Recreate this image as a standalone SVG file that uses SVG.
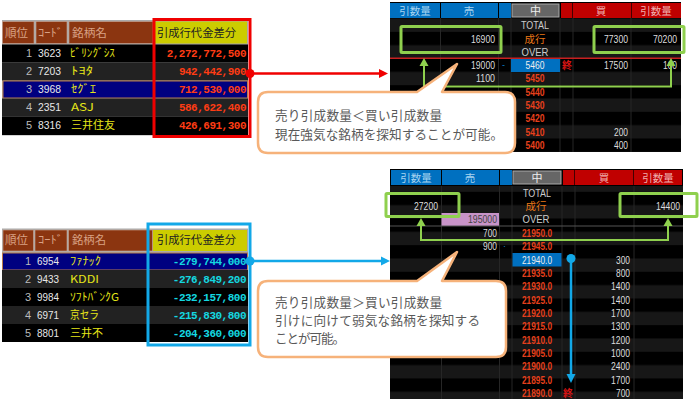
<svg xmlns="http://www.w3.org/2000/svg" width="700" height="402" viewBox="0 0 700 402">
<style>
text{font-family:"Liberation Sans","Noto Sans CJK JP",sans-serif;font-size:11px}
.jp{font-family:"Noto Sans CJK JP",sans-serif}
.hd{fill:#d9a184;font-size:11.5px;font-family:"Noto Sans CJK JP",sans-serif}
.hy{fill:#222;font-size:11.5px;font-family:"Noto Sans CJK JP",sans-serif}
.rk{fill:#bbb;text-anchor:end}
.cd{fill:#e8e8e8}
.nm{fill:#e6e619;font-family:"Noto Sans CJK JP",sans-serif;font-size:11px}
.vr{fill:#ff3c14;font-family:"Liberation Mono",monospace;font-weight:bold;text-anchor:end}
.vb{fill:#14d8e0;font-family:"Liberation Mono",monospace;font-weight:bold;text-anchor:end}
.bh{font-family:"Noto Sans CJK JP",sans-serif;font-size:10.5px;text-anchor:middle;fill:#a8d4f0}
.bhr{font-family:"Noto Sans CJK JP",sans-serif;font-size:10.5px;text-anchor:middle;fill:#f0b0b0}
.n{fill:#ddd;text-anchor:end}
.p{fill:#e8401c;text-anchor:middle;font-weight:bold}
.pw{fill:#eee;text-anchor:middle}
.c{fill:#ccc;text-anchor:middle}
.or{fill:#e87818;text-anchor:middle;font-family:"Noto Sans CJK JP",sans-serif;font-size:10.5px}
.end{fill:#d81414;text-anchor:middle;font-family:"Noto Sans CJK JP",sans-serif;font-size:10px;font-weight:bold}
.sep{stroke:#262626;stroke-width:1}
.hbox{fill:#8b3510;stroke:#c9a898;stroke-width:.6}
.green{fill:none;stroke:#8fd04e;stroke-width:3}
.gl{fill:none;stroke:#8fd04e;stroke-width:2;marker-start:url(#ag);marker-end:url(#ag)}
.call{fill:#fff;stroke:#f6b27a;stroke-width:2.5;stroke-linejoin:round}
.ct{fill:#595959;font-family:"Noto Sans CJK JP",sans-serif;font-size:12.6px}
</style>
<defs>
<pattern id="st" width="10" height="26.66" patternUnits="userSpaceOnUse" y="5.2"><rect width="10" height="13.33" y="13.33" fill="#171717"/></pattern>
<marker id="ar" markerUnits="userSpaceOnUse" markerWidth="9" markerHeight="10" refX="0" refY="5" orient="auto"><path d="M0 .5L9 5L0 9.5Z" fill="#f00000"/></marker>
<marker id="ab" markerUnits="userSpaceOnUse" markerWidth="9" markerHeight="10" refX="0" refY="5" orient="auto"><path d="M0 .5L9 5L0 9.5Z" fill="#12a8e8"/></marker>
<marker id="ag" markerUnits="userSpaceOnUse" markerWidth="9" markerHeight="10" refX="0" refY="5" orient="auto-start-reverse"><path d="M0 .5L8 5L0 9.5Z" fill="#8fd04e"/></marker>
</defs>
<rect width="700" height="402" fill="#fff"/>

<g id="table-top">
<rect x="2" y="20" width="246" height="115.500" fill="#aaa"/>
<rect x="2.500" y="21.500" width="31.500" height="22" class="hbox"/><rect x="36" y="21.500" width="31" height="22" class="hbox"/><rect x="69" y="21.500" width="84" height="22" class="hbox"/>
<rect x="155" y="21.500" width="92" height="22" fill="#cccc00"/>
<text x="5" y="36.500" class="hd" textLength="23" lengthAdjust="spacingAndGlyphs">順位</text>
<text x="38" y="36.500" class="hd" textLength="25" lengthAdjust="spacingAndGlyphs">ｺｰﾄﾞ</text>
<text x="72" y="36.500" class="hd" textLength="35" lengthAdjust="spacingAndGlyphs">銘柄名</text>
<text x="157" y="36.500" class="hy" textLength="79" lengthAdjust="spacingAndGlyphs">引成行代金差分</text>
<rect x="2" y="44.500" width="246" height="18" fill="#000"/><rect x="2" y="62.500" width="246" height="18" fill="#222"/><rect x="3" y="81" width="244.500" height="17" fill="#000080" stroke="#b87a4a"/><rect x="2" y="98.500" width="246" height="18" fill="#222"/><rect x="2" y="116.500" width="246" height="18.500" fill="#000"/>
<text x="32" y="56.700" class="rk">1</text><text x="38" y="56.700" class="cd" textLength="23" lengthAdjust="spacingAndGlyphs">3623</text><text x="70" y="57" class="nm" textLength="45" lengthAdjust="spacingAndGlyphs">ﾋﾞﾘﾝｸﾞｼｽ</text><text x="246" y="56.700" class="vr" letter-spacing="-.5">2,272,772,500</text>
<text x="32" y="74.700" class="rk">2</text><text x="38" y="74.700" class="cd" textLength="23" lengthAdjust="spacingAndGlyphs">7203</text><text x="71" y="75" class="nm" textLength="22" lengthAdjust="spacingAndGlyphs">ﾄﾖﾀ</text><text x="246" y="74.700" class="vr" letter-spacing="-.5">942,442,900</text>
<text x="32" y="92.700" class="rk">3</text><text x="38" y="92.700" class="cd" textLength="23" lengthAdjust="spacingAndGlyphs">3968</text><text x="71" y="93" class="nm" textLength="25" lengthAdjust="spacingAndGlyphs">ｾｸﾞｴ</text><text x="246" y="92.700" class="vr" letter-spacing="-.5">712,530,000</text>
<text x="32" y="110.700" class="rk">4</text><text x="38" y="110.700" class="cd" textLength="23" lengthAdjust="spacingAndGlyphs">2351</text><text x="71" y="111" class="nm" textLength="23" lengthAdjust="spacingAndGlyphs">ASJ</text><text x="246" y="110.700" class="vr" letter-spacing="-.5">586,622,400</text>
<text x="32" y="128.700" class="rk">5</text><text x="38" y="128.700" class="cd" textLength="23" lengthAdjust="spacingAndGlyphs">8316</text><text x="71" y="129" class="nm" textLength="44" lengthAdjust="spacingAndGlyphs">三井住友</text><text x="246" y="128.700" class="vr" letter-spacing="-.5">426,691,300</text>
<rect x="154" y="19.500" width="96" height="117" fill="none" stroke="#f00000" stroke-width="3"/>
</g>

<g id="table-bottom">
<rect x="2" y="228.500" width="246" height="113.500" fill="#aaa"/>
<rect x="3" y="230" width="30.500" height="21" class="hbox"/><rect x="35" y="230" width="32" height="21" class="hbox"/><rect x="68.500" y="230" width="84" height="21" class="hbox"/>
<rect x="153" y="230" width="94" height="21" fill="#cccc00"/>
<text x="5" y="244" class="hd" textLength="23" lengthAdjust="spacingAndGlyphs">順位</text>
<text x="38" y="244" class="hd" textLength="25" lengthAdjust="spacingAndGlyphs">ｺｰﾄﾞ</text>
<text x="72" y="244" class="hd" textLength="34" lengthAdjust="spacingAndGlyphs">銘柄名</text>
<text x="157" y="244" class="hy" textLength="79" lengthAdjust="spacingAndGlyphs">引成行代金差分</text>
<rect x="2.500" y="253" width="245" height="17" fill="#000080" stroke="#b87a4a"/><rect x="2" y="270" width="246" height="18" fill="#222"/><rect x="2" y="288" width="246" height="18" fill="#000"/><rect x="2" y="306" width="246" height="18" fill="#222"/><rect x="2" y="324" width="246" height="18" fill="#000"/>
<text x="31" y="264.700" class="rk">1</text><text x="37" y="264.700" class="cd" textLength="22" lengthAdjust="spacingAndGlyphs">6954</text><text x="70" y="265" class="nm" textLength="31" lengthAdjust="spacingAndGlyphs">ﾌｧﾅｯｸ</text><text x="246" y="264.700" class="vb" letter-spacing="-.5">-279,744,000</text>
<text x="31" y="282.700" class="rk">2</text><text x="37" y="282.700" class="cd" textLength="22" lengthAdjust="spacingAndGlyphs">9433</text><text x="70" y="283" class="nm" textLength="29" lengthAdjust="spacingAndGlyphs">KDDI</text><text x="246" y="282.700" class="vb" letter-spacing="-.5">-276,849,200</text>
<text x="31" y="300.700" class="rk">3</text><text x="37" y="300.700" class="cd" textLength="22" lengthAdjust="spacingAndGlyphs">9984</text><text x="70" y="301" class="nm" textLength="49" lengthAdjust="spacingAndGlyphs">ｿﾌﾄﾊﾞﾝｸG</text><text x="246" y="300.700" class="vb" letter-spacing="-.5">-232,157,800</text>
<text x="31" y="318.700" class="rk">4</text><text x="37" y="318.700" class="cd" textLength="22" lengthAdjust="spacingAndGlyphs">6971</text><text x="70" y="319" class="nm" textLength="29" lengthAdjust="spacingAndGlyphs">京セラ</text><text x="246" y="318.700" class="vb" letter-spacing="-.5">-215,830,800</text>
<text x="31" y="336.700" class="rk">5</text><text x="37" y="336.700" class="cd" textLength="22" lengthAdjust="spacingAndGlyphs">8801</text><text x="70" y="337" class="nm" textLength="33" lengthAdjust="spacingAndGlyphs">三井不</text><text x="246" y="336.700" class="vb" letter-spacing="-.5">-204,360,000</text>
<rect x="148" y="224" width="102" height="121" fill="none" stroke="#12a8e8" stroke-width="3"/>
</g>

<g id="book-top">
<rect x="390" y="2" width="291" height="150" fill="#000"/>
<rect x="390" y="18" width="291" height="134" fill="url(#st)"/>
<path class="sep" d="M440.500 18V152M498.500 18V152M511 18V152M560 18V152M573 18V152M631 18V152"/>
<rect x="390" y="3" width="108" height="15" fill="#0070c0"/><rect x="499" y="3" width="12" height="15" fill="#0070c0"/>
<rect x="440" y="3" width="1" height="15" fill="#000"/>
<rect x="512" y="4" width="47" height="13" fill="#666" stroke="#aaa"/>
<rect x="561" y="3" width="120" height="15" fill="#c00000"/><rect x="572" y="3" width="1" height="15" fill="#400"/><rect x="631" y="3" width="1" height="15" fill="#400"/>
<text x="415" y="14.500" class="bh">引数量</text><text x="469" y="14.500" class="bh">売</text><text x="535.500" y="14.500" class="pw">中</text><text x="601" y="14.500" class="bhr">買</text><text x="656" y="14.500" class="bhr">引数量</text>
<text x="535" y="29" class="c" textLength="28" lengthAdjust="spacingAndGlyphs">TOTAL</text>
<text x="535" y="42.500" class="or">成行</text>
<text x="535" y="56" class="c" textLength="27" lengthAdjust="spacingAndGlyphs">OVER</text>
<rect x="390" y="57.500" width="291" height="1.500" fill="#c82020"/>
<text x="495" y="42.500" class="n" textLength="24" lengthAdjust="spacingAndGlyphs">16900</text><text x="628" y="42.500" class="n" textLength="24" lengthAdjust="spacingAndGlyphs">77300</text><text x="677" y="42.500" class="n" textLength="24" lengthAdjust="spacingAndGlyphs">70200</text>
<rect x="511" y="59" width="49" height="13" fill="#0070c0"/>
<text x="502" y="68" fill="#0a86d0" style="font-size:9px">-</text>
<text x="495" y="69" class="n" textLength="24" lengthAdjust="spacingAndGlyphs">19000</text><text x="535" y="69" class="pw" textLength="19" lengthAdjust="spacingAndGlyphs">5460</text><text x="567" y="69" class="end">終</text><text x="628" y="69" class="n" textLength="24" lengthAdjust="spacingAndGlyphs">17500</text><text x="677" y="69" class="n" textLength="14" lengthAdjust="spacingAndGlyphs">100</text>
<text x="495" y="82" class="n" textLength="19" lengthAdjust="spacingAndGlyphs">1100</text><text x="535" y="82" class="p" textLength="19" lengthAdjust="spacingAndGlyphs">5450</text>
<text x="535" y="95.500" class="p" textLength="19" lengthAdjust="spacingAndGlyphs">5440</text>
<text x="535" y="109" class="p" textLength="19" lengthAdjust="spacingAndGlyphs">5430</text>
<text x="535" y="122" class="p" textLength="19" lengthAdjust="spacingAndGlyphs">5420</text>
<text x="535" y="135.500" class="p" textLength="19" lengthAdjust="spacingAndGlyphs">5410</text><text x="628" y="135.500" class="n" textLength="14" lengthAdjust="spacingAndGlyphs">200</text>
<text x="535" y="149" class="p" textLength="19" lengthAdjust="spacingAndGlyphs">5400</text><text x="628" y="149" class="n" textLength="14" lengthAdjust="spacingAndGlyphs">400</text>
<rect x="401" y="26.500" width="100" height="26" class="green" rx="1"/>
<rect x="594" y="26.500" width="90" height="26" class="green" rx="1"/>
</g>

<g id="book-bottom">
<rect x="390" y="169" width="293" height="230" fill="#000"/>
<rect x="390" y="186" width="293" height="213" fill="url(#st)"/>
<path class="sep" d="M441.500 186V399M499.500 186V399M512 186V399M562 186V399M575 186V399M634 186V399"/>
<rect x="391" y="170" width="108" height="15" fill="#0070c0"/><rect x="500" y="170" width="12" height="15" fill="#0070c0"/>
<rect x="441" y="170" width="1" height="15" fill="#000"/>
<rect x="513" y="171" width="48" height="13" fill="#666" stroke="#aaa"/>
<rect x="563" y="170" width="119" height="15" fill="#c00000"/><rect x="574" y="170" width="1" height="15" fill="#400"/><rect x="633" y="170" width="1" height="15" fill="#400"/>
<text x="416" y="181.500" class="bh">引数量</text><text x="470" y="181.500" class="bh">売</text><text x="537" y="181.500" class="pw">中</text><text x="604" y="181.500" class="bhr">買</text><text x="658" y="181.500" class="bhr">引数量</text>
<text x="537" y="197" class="c" textLength="28" lengthAdjust="spacingAndGlyphs">TOTAL</text>
<text x="536" y="210" class="or">成行</text>
<rect x="441.500" y="213" width="57.500" height="13" fill="#c893c8"/>
<text x="497" y="223" class="n" style="fill:#444" textLength="29" lengthAdjust="spacingAndGlyphs">195000</text>
<text x="536" y="223" class="c" textLength="27" lengthAdjust="spacingAndGlyphs">OVER</text>
<rect x="390" y="225.500" width="293" height="1" fill="#555"/>
<text x="438" y="210" class="n" textLength="24" lengthAdjust="spacingAndGlyphs">27200</text><text x="680" y="210" class="n" textLength="24" lengthAdjust="spacingAndGlyphs">14400</text>
<text x="497" y="237" class="n" textLength="14" lengthAdjust="spacingAndGlyphs">700</text><text x="537" y="237" class="p" textLength="30" lengthAdjust="spacingAndGlyphs">21950.0</text>
<text x="497" y="250" class="n" textLength="14" lengthAdjust="spacingAndGlyphs">900</text><text x="503" y="249" fill="#0a86d0" style="font-size:9px">·</text><text x="537" y="250" class="p" textLength="30" lengthAdjust="spacingAndGlyphs">21945.0</text>
<rect x="512.500" y="253" width="49" height="13.500" fill="#0070c0"/>
<text x="537" y="263.500" class="pw" textLength="30" lengthAdjust="spacingAndGlyphs">21940.0</text><text x="630" y="263.500" class="n" textLength="14" lengthAdjust="spacingAndGlyphs">300</text>
<text x="537" y="277" class="p" textLength="30" lengthAdjust="spacingAndGlyphs">21935.0</text><text x="630" y="277" class="n" textLength="14" lengthAdjust="spacingAndGlyphs">800</text>
<text x="537" y="290" class="p" textLength="30" lengthAdjust="spacingAndGlyphs">21930.0</text><text x="630" y="290" class="n" textLength="19" lengthAdjust="spacingAndGlyphs">1400</text>
<text x="537" y="303.500" class="p" textLength="30" lengthAdjust="spacingAndGlyphs">21925.0</text><text x="630" y="303.500" class="n" textLength="19" lengthAdjust="spacingAndGlyphs">1400</text>
<text x="537" y="317" class="p" textLength="30" lengthAdjust="spacingAndGlyphs">21920.0</text><text x="630" y="317" class="n" textLength="19" lengthAdjust="spacingAndGlyphs">1700</text>
<text x="537" y="330" class="p" textLength="30" lengthAdjust="spacingAndGlyphs">21915.0</text><text x="630" y="330" class="n" textLength="19" lengthAdjust="spacingAndGlyphs">1300</text>
<text x="537" y="343.500" class="p" textLength="30" lengthAdjust="spacingAndGlyphs">21910.0</text><text x="630" y="343.500" class="n" textLength="19" lengthAdjust="spacingAndGlyphs">1200</text>
<text x="537" y="357" class="p" textLength="30" lengthAdjust="spacingAndGlyphs">21905.0</text><text x="630" y="357" class="n" textLength="19" lengthAdjust="spacingAndGlyphs">1000</text>
<text x="537" y="370" class="p" textLength="30" lengthAdjust="spacingAndGlyphs">21900.0</text><text x="630" y="370" class="n" textLength="19" lengthAdjust="spacingAndGlyphs">2400</text>
<text x="537" y="383.500" class="p" textLength="30" lengthAdjust="spacingAndGlyphs">21895.0</text><text x="630" y="383.500" class="n" textLength="19" lengthAdjust="spacingAndGlyphs">1700</text>
<text x="537" y="397" class="p" textLength="30" lengthAdjust="spacingAndGlyphs">21890.0</text><text x="568" y="397" class="end">終</text><text x="630" y="397" class="n" textLength="14" lengthAdjust="spacingAndGlyphs">700</text>
<rect x="386" y="193.500" width="73" height="23" class="green" rx="1"/>
<rect x="620" y="193.500" width="77" height="23" class="green" rx="1"/>
</g>

<g id="connectors">
<circle cx="250" cy="73.500" r="4.500" fill="#f00000"/>
<path d="M250 73.500H379" fill="none" stroke="#f00000" stroke-width="2.500" marker-end="url(#ar)"/>
<path class="gl" d="M424 66V86.500H671V66"/>
<circle cx="250" cy="261" r="4.500" fill="#12a8e8"/>
<path d="M250 261H381" fill="none" stroke="#12a8e8" stroke-width="2.500" marker-end="url(#ab)"/>
<path class="gl" d="M421 226V240H668V226"/>
<circle cx="571" cy="258.500" r="4.500" fill="#12a8e8"/>
<path d="M571 258.500V374" fill="none" stroke="#12a8e8" stroke-width="2.500" marker-end="url(#ab)"/>
</g>

<g id="callout-top">
<path class="call" d="M268 92H417L457 64L442 92H505Q515 92 515 102V143Q515 153 505 153H268Q258 153 258 143V102Q258 92 268 92Z"/>
<text x="275" y="120" class="ct" textLength="167">売り引成数量＜買い引成数量</text>
<text x="275" y="139" class="ct" textLength="228">現在強気な銘柄を探知することが可能。</text>
</g>

<g id="callout-bottom">
<path class="call" d="M268 281H417L457 252L442 281H496Q506 281 506 291V347Q506 357 496 357H268Q258 357 258 347V291Q258 281 268 281Z"/>
<text x="275" y="307" class="ct" textLength="167">売り引成数量＞買い引成数量</text>
<text x="275" y="325" class="ct" textLength="205">引けに向けて弱気な銘柄を探知する</text>
<text x="275" y="343" class="ct" textLength="70">ことが可能。</text>
</g>
</svg>
